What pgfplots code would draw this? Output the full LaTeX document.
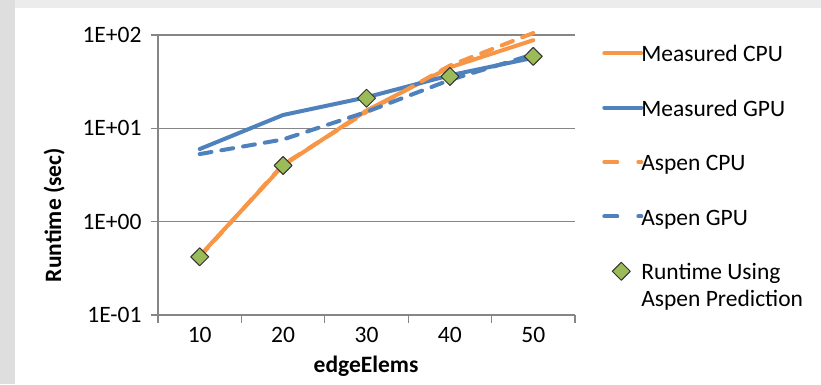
\documentclass[border=0pt]{standalone}
\usepackage{pgfplots}
\pgfplotsset{compat=1.18}
\usepackage{fontspec}
\setmainfont{Carlito}

\definecolor{cpuorange}{HTML}{F79646}
\definecolor{gpublue}{HTML}{4F81BD}
\definecolor{predgreen}{HTML}{9BBB59}
\definecolor{gridgray}{HTML}{868686}
\definecolor{stripgray}{HTML}{DEDEDE}
\definecolor{topgray}{HTML}{ECECEC}

% legend samples: solid line, dash-and-dot, single marker level with the first text line
\pgfplotsset{
  solid legend/.style={legend image code/.code={\draw[#1] (0bp,0bp) -- (37bp,0bp);}},
  dashed legend/.style={legend image code/.code={\draw[#1, dash pattern=on 13bp off 21bp] (0bp,0bp) -- (37bp,0bp);}},
  mark legend/.style={legend image code/.code={\path (0bp,0bp) (37bp,0bp); \draw[#1] plot coordinates {(17bp,13bp)};}},
}

\begin{document}
\begin{tikzpicture}[x=1bp,y=1bp,font=\fontsize{23.5bp}{27bp}\selectfont]
% page background with the light frame on the left and top
\fill[topgray] (0,0) rectangle (821,384);
\fill[stripgray] (0,0) rectangle (15,384);
\fill[white] (15,0) rectangle (821,376);

\begin{axis}[
  at={(158bp,69bp)}, anchor=south west,
  scale only axis, width=417bp, height=280bp,
  clip=false,
  xmin=5, xmax=55,
  ymode=log, ymin=0.1, ymax=100,
  xtick={10,20,30,40,50},
  xticklabels={10,20,30,40,50},
  minor xtick={5,15,25,35,45,55},
  ytick={0.1,1,10,100},
  yticklabels={1E-01,1E+00,1E+01,1E+02},
  yminorticks=false,
  /pgf/number format/assume math mode=true,
  axis x line*=bottom, axis y line*=left,
  axis line style={gridgray, line width=1.2bp, -},
  major x tick style={draw=none},
  minor x tick style={gridgray, line width=1.2bp},
  y tick style={gridgray, line width=1.2bp},
  tick align=outside,
  major tick length=7bp, minor tick length=8bp,
  ymajorgrids,
  major grid style={gridgray, line width=1.2bp},
  xticklabel style={yshift=-2bp},
  yticklabel style={xshift=-6bp},
  xlabel={\bfseries edgeElems},
  ylabel={\bfseries Runtime (sec)},
  xlabel style={at={(axis description cs:0.499,-0.182)}, anchor=center},
  ylabel style={at={(axis description cs:-0.249,0.357)}, anchor=center},
  legend cell align=left,
  legend style={
    at={(axis description cs:1.065,0.972)}, anchor=north west,
    draw=none, fill=none, inner sep=0pt,
    row sep=34bp, column sep=-2bp,
    nodes={inner sep=0pt, align=left},
  },
  every axis plot/.append style={line width=4bp, line cap=round, line join=round},
]

% measured runtimes
\addplot[cpuorange, mark=none, solid legend]
  coordinates {(10,0.43) (20,4.0) (30,15.5) (40,45) (50,88)};
\addlegendentry{\strut Measured CPU}

\addplot[gpublue, mark=none, solid legend]
  coordinates {(10,6.0) (20,13.9) (30,21.5) (40,37) (50,57)};
\addlegendentry{\strut Measured GPU}

% model predictions
\addplot[cpuorange, mark=none, dash pattern=on 12bp off 10bp, dashed legend]
  coordinates {(10,0.42) (20,4.1) (30,15) (40,47) (50,105)};
\addlegendentry{\strut Aspen CPU}

\addplot[gpublue, mark=none, dash pattern=on 12bp off 10bp, dashed legend]
  coordinates {(10,5.3) (20,7.6) (30,15) (40,33) (50,62)};
\addlegendentry{\strut Aspen GPU}

% runtime when the predicted device is chosen
\addplot[only marks, mark=diamond*, mark size=9bp,
  mark options={xscale=1.33, fill=predgreen, draw=black!80, line width=1bp},
  mark legend]
  coordinates {(10,0.42) (20,4.0) (30,21) (40,36) (50,59)};
\addlegendentry{\strut Runtime Using\\Aspen Prediction}

\end{axis}
\end{tikzpicture}
\end{document}
